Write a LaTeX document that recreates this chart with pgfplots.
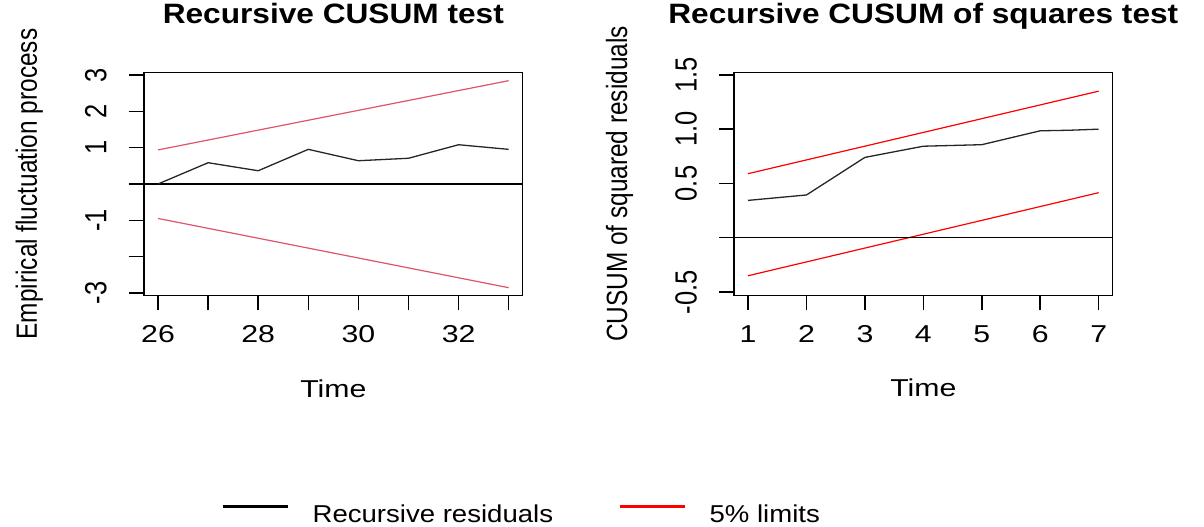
\documentclass[border=0pt]{standalone}
\usepackage{fontspec}
\setmainfont{Liberation Sans}[FakeStretch=1.13]
\newfontfamily\rotfont{Liberation Sans}
\newfontfamily\widefont{Liberation Sans}[FakeStretch=1.24]
\usepackage{pgfplots}
\pgfplotsset{compat=1.18}
\definecolor{rpink}{HTML}{DF536B}
\newcommand\sy[1]{\scalebox{1}[1.2]{\rotfont #1}}
\newcommand\syt[1]{\scalebox{1}[1.2]{\rotfont\fontsize{25.5}{28}\selectfont #1}}
\pgfplotsset{
  rstyle/.style={
    scale only axis, width=378.7pt, height=222.6pt, anchor=south west,
    axis line style={line width=1.5pt},
    tick style={line width=1.5pt, black},
    tick align=outside, major tick length=15pt,
    tick pos=left,
    xticklabel style={anchor=base, yshift=-31.7pt, font=\widefont},
    yticklabel style={xshift=-22.5pt, rotate=90, anchor=base},
    title style={at={(0.5,1)}, anchor=base, yshift=42.7pt, font=\bfseries\fontsize{28}{32}\selectfont},
    xlabel style={at={(axis description cs:0.5,0)}, anchor=base, yshift=-101.7pt, font=\widefont},
    ylabel style={at={(axis description cs:0,0.5)}, anchor=base, yshift=107pt},
  }
}
\begin{document}
\fontsize{24.4}{28}\selectfont
\begin{tikzpicture}
\path[use as bounding box] (0pt,0pt) rectangle (1204pt,527pt);
\begin{axis}[rstyle, at={(144pt,231.7pt)},
  xmin=25.72, xmax=33.28, ymin=-3.07, ymax=3.07,
  xtick={26,...,33}, xticklabels={26,,28,,30,,32,},
  ytick={-3,...,3}, yticklabels={\syt{-3},,\syt{-1},,\syt{1},\syt{2},\syt{3}},
  title={Recursive CUSUM test}, xlabel={Time},
  ylabel={\sy{Empirical fluctuation process}},
  legend columns=2,
  legend style={at={(axis description cs:0.206,-0.987)}, anchor=west, draw=none, fill=none, inner sep=0pt,
    nodes={inner sep=0pt},
    /tikz/every odd column/.style={column sep=23pt},
    /tikz/every even column/.style={column sep=66pt}},
  legend image code/.code={\draw[#1] (0pt,8.5pt) -- (65pt,8.5pt);},
]
\addplot[rpink, line width=1.2pt, forget plot] coordinates {(26,0.94) (33,2.85)};
\addplot[rpink, line width=1.2pt, forget plot] coordinates {(26,-0.95) (33,-2.86)};
\addplot[black, line width=1.2pt, forget plot] coordinates {(25.72,0) (33.28,0)};
\addplot[black!85, line width=1.3pt, forget plot] coordinates {(26,0) (27,0.587) (28,0.366) (29,0.956) (30,0.642) (31,0.71) (32,1.083) (33,0.956)};
\addlegendimage{black, line width=2.4pt}
\addlegendentry{Recursive residuals}
\addlegendimage{red, line width=2.4pt}
\addlegendentry{5\% limits}
\end{axis}
\begin{axis}[rstyle, at={(734pt,231.7pt)},
  xmin=0.76, xmax=7.24, ymin=-0.53, ymax=1.52,
  xtick={1,...,7}, xticklabels={1,2,3,4,5,6,7},
  ytick={-0.5,0,0.5,1,1.5}, yticklabels={\syt{-0.5},,\syt{0.5},\syt{1.0},\syt{1.5}},
  title={Recursive CUSUM of squares test}, xlabel={Time},
  ylabel={\sy{CUSUM of squared residuals}},
]
\addplot[red, line width=1.2pt] coordinates {(1,0.59) (7,1.35)};
\addplot[red, line width=1.2pt] coordinates {(1,-0.35) (7,0.415)};
\addplot[black, line width=1.2pt] coordinates {(0.76,0) (7.24,0)};
\addplot[black!85, line width=1.3pt] coordinates {(1,0.344) (2,0.394) (3,0.740) (4,0.843) (5,0.857) (6,0.985) (6.5,0.99) (7,1.0)};
\end{axis}
\end{tikzpicture}
\end{document}
